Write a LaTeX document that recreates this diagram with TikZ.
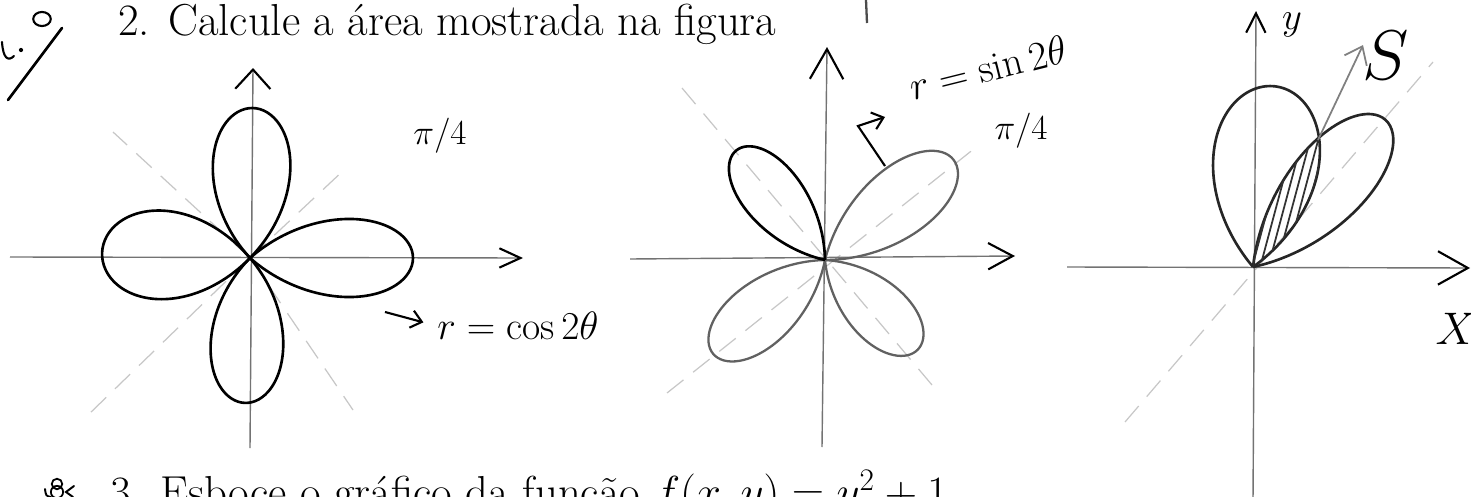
\documentclass[tikz,border=0pt]{standalone}
\usepackage{fix-cm}
\usepackage{fontspec}
\usepackage{tikz}
\usetikzlibrary{arrows.meta}

\begin{document}
\begin{tikzpicture}[x=0.02cm, y=-0.02cm,
  axis/.style={draw=black!55, line width=0.8pt},
  petal/.style={draw=black, line width=1.5pt},
  soft/.style={draw=black!62, line width=1.3pt},
  guide/.style={draw=black!22, line width=0.7pt, dash pattern=on 12pt off 7pt},
  hand/.style={inner sep=0pt, font=\fontsize{20}{24}\selectfont},
  print/.style={anchor=base west, inner sep=0pt, font=\fontsize{25.5}{30}\selectfont},
  gmark/.style={draw=black, line width=1.5pt, line cap=round}]
  \useasboundingbox (0,0) rectangle (1471,497);
  \clip (0,0) rectangle (1471,497);

  % printed text of the sheet
  \node[print] (q2) at (118,35) {2. Calcule a área mostrada na figura};
  \node[print] (q3) at (110,507) {3. Esboce o gráfico da função $f(x,y)=y^2+1$};

  % grade marks in the margin
  \draw[gmark] (8,100) -- (62,28);
  \draw[gmark, line width=1.2pt] (42,19) ellipse (5pt and 4pt);
  \draw[gmark, line width=1.2pt] (2,42) .. controls (3,58) and (8,62) .. (14,56);
  \fill (21,50) circle (1.2pt);
  \draw[gmark, line width=1.1pt] (45,489) .. controls (46,496) .. (51,497);
  \draw[black, line width=1pt] (57,484) circle (3pt) (57,492) circle (3.5pt);
  \draw[gmark, line width=1.1pt] (74,486) -- (66,492) -- (73,497);
  \draw[black!70, line width=1.3pt] (866,0) -- (867,23);

  % first figure: r = cos 2theta
  \coordinate (O1) at (250,258);
  \draw[guide] (O1) -- (345,169);
  \draw[guide] (O1) -- (113,132);
  \draw[guide] (O1) -- (88,415);
  \draw[guide] (O1) -- (353,410);
  \draw[axis, -{Straight Barb[length=12pt,width=11pt,line width=1.2pt,color=black]}] (10,257) -- (523,258);
  \draw[axis, -{Straight Barb[length=11pt,width=20pt,line width=1.2pt,color=black]}] (250,448) -- (253,68);
  \foreach \ang/\len/\wid in {0/163/0.88, 178/148/1.1, 89/150/0.95, 268/145/0.92}
    \draw[petal, shift={(O1)}, rotate=\ang] plot[domain=-45:45, samples=61, smooth]
      ({\len*cos(2*\x)*cos(\x)}, {\wid*\len*cos(2*\x)*sin(\x)});
  \node[hand] (pi1) at (440,136) {$\pi/4$};
  \node[hand, anchor=west, font=\fontsize{22.5}{26}\selectfont] (cos) at (437,326) {$r=\cos 2\theta$};
  \coordinate (c1) at (385,312);
  \draw[black, line width=1.2pt, shorten >=8pt, -{Straight Barb[length=6pt,width=10pt]}] (c1) -- (cos.west);

  % second figure: r = sin 2theta
  \coordinate (O2) at (825,260);
  \draw[guide] (682,88) -- (932,385);
  \draw[guide] (667,393) -- (975,148);
  \draw[axis, -{Straight Barb[length=14pt,width=15pt,line width=1.2pt,color=black]}] (630,259) -- (1015,256);
  \draw[axis, -{Straight Barb[length=17pt,width=19pt,line width=1.2pt,color=black]}] (822,447) -- (827,47);
  \foreach \ang/\len/\wid in {38/163/0.78, 220/146/0.8, -44/129/0.85}
    \draw[soft, shift={(O2)}, rotate=\ang] plot[domain=-45:45, samples=61, smooth]
      ({\len*cos(2*\x)*cos(\x)}, {\wid*\len*cos(2*\x)*sin(\x)});
  \draw[petal, shift={(O2)}, rotate=129] plot[domain=-45:45, samples=61, smooth]
    ({141*cos(2*\x)*cos(\x)}, {0.78*141*cos(2*\x)*sin(\x)});
  \node[hand, rotate=14, font=\fontsize{23}{26}\selectfont] (sin) at (988,68) {$r=\sin 2\theta$};
  \node[hand] (pi2) at (1021,131) {$\pi/4$};
  \coordinate (b1) at (885,166);
  \coordinate (b2) at (858,126);
  \coordinate (b3) at (885,117);
  \draw[black, line width=1.2pt, -{Straight Barb[length=6pt,width=10pt]}] (b1) -- (b2) -- (b3);

  % third figure: region S between two petals
  \coordinate (O3) at (1253,267);
  \draw[guide] (1125,422) -- (1433,62);
  \draw[axis, -{Straight Barb[length=17pt,width=19pt,line width=1.2pt,color=black]}] (1067,267) -- (1470,268);
  \draw[axis, -{Straight Barb[length=11pt,width=11pt,line width=1.2pt,color=black]}] (1253,500) -- (1256,11);
  \foreach \ang/\len/\wid in {83/182/1.07, 48/198/0.72}
    \draw[petal, draw=black!85, shift={(O3)}, rotate=\ang] plot[domain=-45:45, samples=61, smooth]
      ({\len*cos(2*\x)*cos(\x)}, {\wid*\len*cos(2*\x)*sin(\x)});
  \begin{scope}
    \clip[shift={(O3)}, rotate=83] plot[domain=-45:45, samples=61, smooth]
      ({182*cos(2*\x)*cos(\x)}, {1.07*182*cos(2*\x)*sin(\x)});
    \clip[shift={(O3)}, rotate=48] plot[domain=-45:45, samples=61, smooth]
      ({198*cos(2*\x)*cos(\x)}, {0.72*198*cos(2*\x)*sin(\x)});
    \foreach \h in {0,...,7}
      \draw[black!80, line width=1pt] (1242+\h*8,275) -- ++(-75:170);
  \end{scope}
  \coordinate (cross) at (1318,140);
  \coordinate (stip) at (1363,45);
  \draw[black!50, line width=1pt, -{Straight Barb[length=9pt,width=14pt]}] (cross) -- (stip);
  \node[hand, font=\fontsize{40}{44}\selectfont] (S) at (1386,55) {$S$};
  \node[hand, font=\fontsize{22}{26}\selectfont] (ylab) at (1292,25) {$y$};
  \node[hand, font=\fontsize{26}{30}\selectfont] (xlab) at (1456,329) {$X$};
\end{tikzpicture}
\end{document}
